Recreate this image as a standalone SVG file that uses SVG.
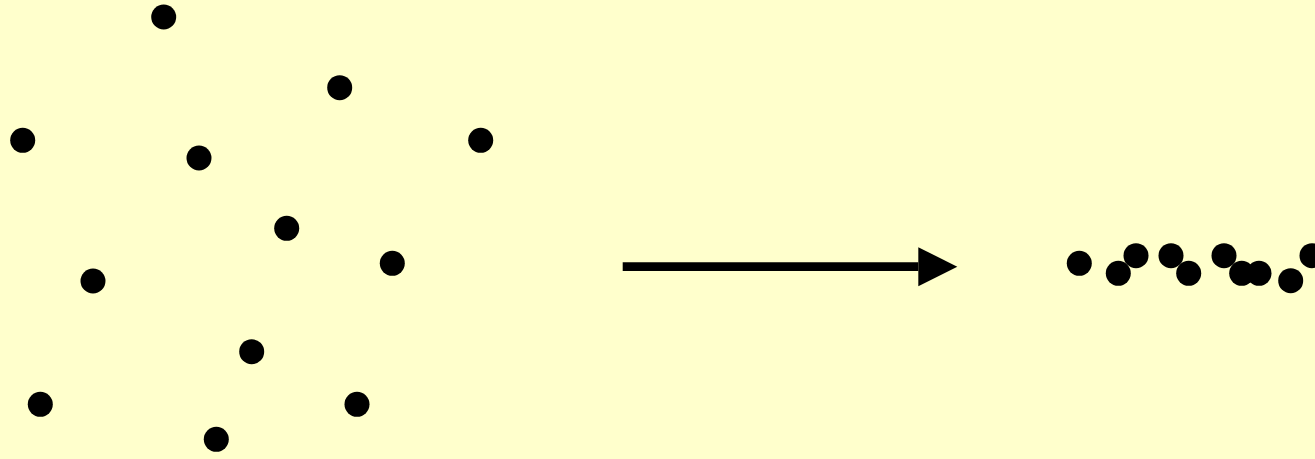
<svg xmlns="http://www.w3.org/2000/svg" width="1315" height="459" viewBox="0 0 1315 459">
  <style>
    .dot { fill: #000000; }
    .conn { stroke: #000000; stroke-width: 8.7; fill: none; }
  </style>
  <defs>
    <marker id="arrowhead" markerUnits="userSpaceOnUse" markerWidth="40" markerHeight="40" refX="0" refY="19.5" orient="auto">
      <polygon points="0,0 39,19.5 0,39" fill="#000000"/>
    </marker>
  </defs>
  <rect x="0" y="0" width="1315" height="459" fill="#FFFFCC"/>
  <g id="scattered">
    <circle id="p1" class="dot" cx="163.7" cy="17" r="12.5"/>
    <circle id="p2" class="dot" cx="339.7" cy="87.7" r="12.5"/>
    <circle id="p3" class="dot" cx="22.7" cy="140.3" r="12.5"/>
    <circle id="p4" class="dot" cx="480.7" cy="140.3" r="12.5"/>
    <circle id="p5" class="dot" cx="199" cy="158" r="12.5"/>
    <circle id="p6" class="dot" cx="286.7" cy="228.3" r="12.5"/>
    <circle id="p7" class="dot" cx="392.3" cy="263.3" r="12.5"/>
    <circle id="p8" class="dot" cx="93" cy="281" r="12.5"/>
    <circle id="p9" class="dot" cx="251.7" cy="351.7" r="12.5"/>
    <circle id="p10" class="dot" cx="40.3" cy="404.3" r="12.5"/>
    <circle id="p11" class="dot" cx="357" cy="404.3" r="12.5"/>
    <circle id="p12" class="dot" cx="216.3" cy="439.3" r="12.5"/>
  </g>
  <g id="connectors">
    <line class="conn" x1="622.7" y1="266.7" x2="918.3" y2="266.7" marker-end="url(#arrowhead)"/>
  </g>
  <g id="clustered">
    <circle id="q1" class="dot" cx="1079.3" cy="263.3" r="12.5"/>
    <circle id="q2" class="dot" cx="1118.3" cy="273.3" r="12.5"/>
    <circle id="q3" class="dot" cx="1136" cy="255.7" r="12.5"/>
    <circle id="q4" class="dot" cx="1171" cy="255.7" r="12.5"/>
    <circle id="q5" class="dot" cx="1188.7" cy="273.3" r="12.5"/>
    <circle id="q6" class="dot" cx="1224" cy="255.7" r="12.5"/>
    <circle id="q7" class="dot" cx="1241.7" cy="273.3" r="12.5"/>
    <circle id="q8" class="dot" cx="1259" cy="273.3" r="12.5"/>
    <circle id="q9" class="dot" cx="1290.7" cy="280.7" r="12.5"/>
    <circle id="q10" class="dot" cx="1312" cy="255.7" r="12.5"/>
  </g>
</svg>
